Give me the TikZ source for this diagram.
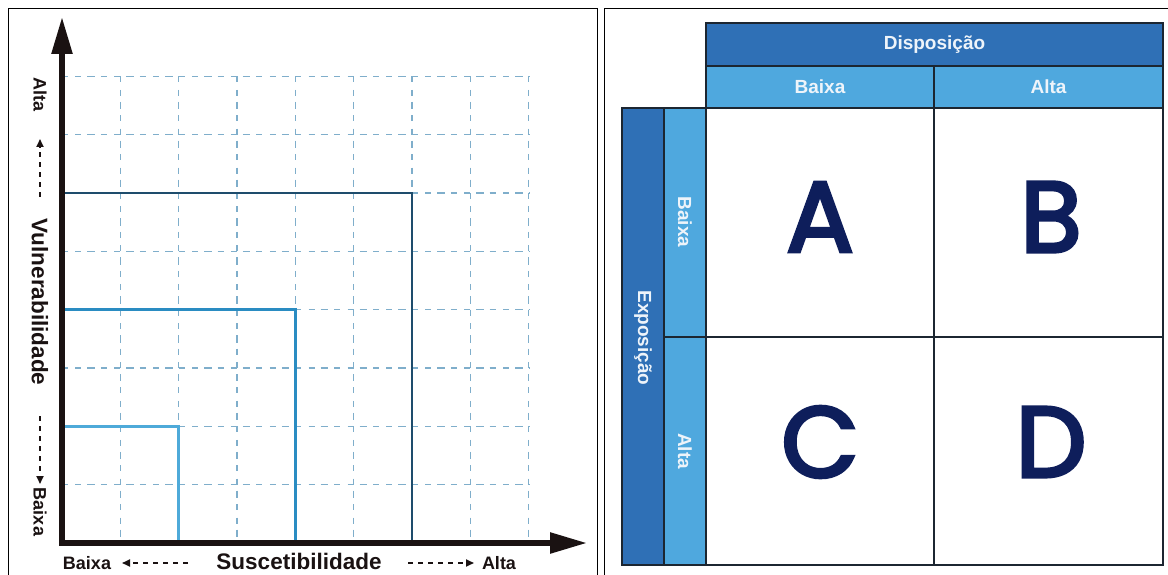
\documentclass[tikz,border=0pt]{standalone}
\usepackage{fontspec}
\setmainfont{Liberation Sans}
\newfontfamily\letterfont[FakeBold=3.5]{Poppins}
\usetikzlibrary{arrows.meta}
\definecolor{gridc}{HTML}{7FAECB}
\definecolor{bigc}{HTML}{1E4C6C}
\definecolor{midc}{HTML}{2A8CC2}
\definecolor{smallc}{HTML}{4EAAD9}
\definecolor{axisc}{HTML}{1A1212}
\definecolor{hdark}{HTML}{2F70B6}
\definecolor{hlight}{HTML}{4FA8DE}
\definecolor{bordc}{HTML}{1C2631}
\definecolor{letc}{HTML}{0E1E5B}
\definecolor{htext}{HTML}{EEF4FA}
\tikzset{
  gridline/.style={gridc, line width=1.1pt, dash pattern=on 6pt off 7.44pt on 6pt},
  axisline/.style={axisc, line width=5.5pt, {Triangle[length=37pt,width=20pt]}-{Triangle[length=37pt,width=20pt]}},
  lbl/.style={font=\bfseries\fontsize{18}{20}\selectfont, text=axisc, inner sep=0pt},
  biglbl/.style={font=\bfseries\fontsize{22.5}{24}\selectfont, text=axisc, inner sep=0pt},
  dashar/.style={axisc, line width=1.8pt, dash pattern=on 5pt off 5pt, -{Triangle[length=8pt,width=7pt]}},
  frame/.style={black, line width=1.8pt},
  tb/.style={bordc, line width=1.6pt},
  htxt/.style={font=\bfseries\fontsize{19}{21}\selectfont, text=htext, inner sep=0pt},
  bigletter/.style={font=\letterfont\fontsize{100}{100}\selectfont, text=letc, inner sep=0pt},
}
\begin{document}
\begin{tikzpicture}[x=1pt,y=-1pt]
\useasboundingbox (0,0) rectangle (1168,575);
\clip (0,0) rectangle (1168,575);
\fill[white] (0,0) rectangle (1168,575);
% frames
\draw[frame] (8.5,8.5) rectangle (597.5,590);
\draw[frame] (604.5,8.5) rectangle (1190,590);
% grid
\foreach \k in {1,...,8} {
  \draw[gridline] (62,{543-58.33*\k}) -- (528.6,{543-58.33*\k});
  \draw[gridline] ({62+58.33*\k},76.4) -- ({62+58.33*\k},543);
}
% nested regions
\draw[smallc, line width=2.6pt] (62,426.3) -- (178.7,426.3) -- (178.7,543);
\draw[midc, line width=2.6pt] (62,309.7) -- (295.3,309.7) -- (295.3,543);
\draw[bigc, line width=2.6pt] (62,193) -- (412,193) -- (412,543);
% axes
\coordinate (origin) at (62,543);
\coordinate (ytip) at (62,17);
\coordinate (xtip) at (587,543);
\draw[axisline] (ytip) -- (origin) -- (xtip);
% y labels
\node[lbl, rotate=-90] (yAlta) at (40,95) {Alta};
\coordinate (yd1s) at (40,197);
\coordinate (yd1e) at (40,139);
\draw[dashar] (yd1s) -- (yd1e);
\node[biglbl, rotate=-90] (yVul) at (40,302) {Vulnerabilidade};
\coordinate (yd2s) at (40,416);
\coordinate (yd2e) at (40,484);
\draw[dashar] (yd2s) -- (yd2e);
\node[lbl, rotate=-90] (yBaixa) at (40,512) {Baixa};
% x labels
\node[lbl] (xBaixa) at (87,563) {Baixa};
\coordinate (xd1s) at (188,563);
\coordinate (xd1e) at (122,563);
\draw[dashar] (xd1s) -- (xd1e);
\node[biglbl] (xSus) at (299,561) {Suscetibilidade};
\coordinate (xd2s) at (408,563);
\coordinate (xd2e) at (474,563);
\draw[dashar] (xd2s) -- (xd2e);
\node[lbl] (xAlta) at (499,563) {Alta};
% right table
\filldraw[tb, fill=hdark] (706,23) rectangle (1163,66);
\filldraw[tb, fill=hlight] (706,66) rectangle (934,108);
\filldraw[tb, fill=hlight] (934,66) rectangle (1163,108);
\filldraw[tb, fill=hdark] (622,108) rectangle (664,565);
\filldraw[tb, fill=hlight] (664,108) rectangle (706,337);
\filldraw[tb, fill=hlight] (664,337) rectangle (706,565);
\draw[tb] (706,108) rectangle (934,337);
\draw[tb] (934,108) rectangle (1163,337);
\draw[tb] (706,337) rectangle (934,565);
\draw[tb] (934,337) rectangle (1163,565);
\node[htxt] (disp) at (934.5,44.5) {Disposição};
\node[htxt] (dBaixa) at (820,87) {Baixa};
\node[htxt] (dAlta) at (1048.5,87) {Alta};
\node[htxt, rotate=-90] (expo) at (643,338) {Exposição};
\node[htxt, rotate=-90] (eBaixa) at (685,222) {Baixa};
\node[htxt, rotate=-90] (eAlta) at (685,451) {Alta};
\node[bigletter] (lA) at (820,217) {A};
\node[bigletter] (lB) at (1051,217) {B};
\node[bigletter] (lC) at (820,442) {C};
\node[bigletter] (lD) at (1051,442) {D};
\end{tikzpicture}
\end{document}
